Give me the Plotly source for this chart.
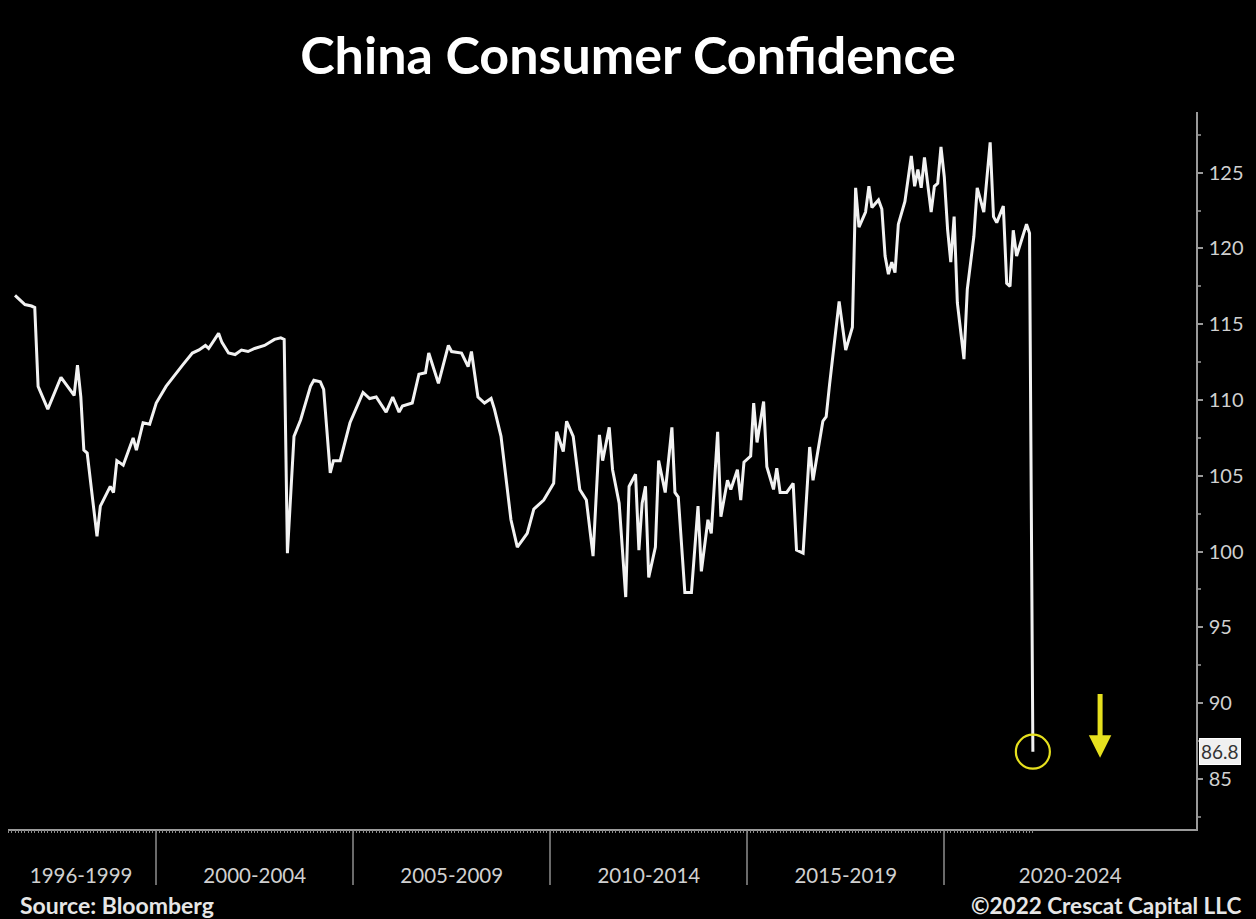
import plotly.graph_objects as go
import pandas as pd

# ---- data (monthly index, China consumer confidence) ----
dates = [
    "1996-06", "1996-09", "1996-11", "1996-12", "1997-01", "1997-04", "1997-08", "1997-12",
    "1998-01", "1998-02", "1998-03", "1998-04", "1998-07", "1998-08", "1998-11", "1998-12",
    "1999-01", "1999-03", "1999-06", "1999-07", "1999-09", "1999-11", "2000-01", "2000-04",
    "2000-09", "2000-12", "2001-02", "2001-04", "2001-05", "2001-08", "2001-09", "2001-11",
    "2002-01", "2002-03", "2002-05", "2002-07", "2002-10", "2003-01", "2003-03", "2003-04",
    "2003-05", "2003-07", "2003-09", "2003-12", "2004-01", "2004-03", "2004-04", "2004-06",
    "2004-07", "2004-09", "2004-12", "2005-04", "2005-06", "2005-08", "2005-11", "2006-01",
    "2006-03", "2006-04", "2006-07", "2006-09", "2006-11", "2006-12", "2007-03", "2007-06",
    "2007-07", "2007-10", "2007-12", "2008-01", "2008-03", "2008-05", "2008-07", "2008-08",
    "2008-10", "2009-01", "2009-03", "2009-06", "2009-08", "2009-11", "2010-02", "2010-03",
    "2010-05", "2010-06", "2010-08", "2010-10", "2010-12", "2011-02", "2011-04", "2011-05",
    "2011-07", "2011-08", "2011-10", "2011-12", "2012-01", "2012-03", "2012-04", "2012-05",
    "2012-06", "2012-07", "2012-09", "2012-10", "2012-12", "2013-02", "2013-03", "2013-04",
    "2013-06", "2013-08", "2013-10", "2013-11", "2014-01", "2014-02", "2014-04", "2014-05",
    "2014-07", "2014-08", "2014-10", "2014-11", "2014-12", "2015-02", "2015-03", "2015-04",
    "2015-06", "2015-07", "2015-09", "2015-10", "2015-11", "2016-01", "2016-03", "2016-04",
    "2016-06", "2016-08", "2016-09", "2016-12", "2017-01", "2017-02", "2017-05", "2017-07",
    "2017-09", "2017-10", "2017-11", "2018-01", "2018-02", "2018-03", "2018-05", "2018-06",
    "2018-07", "2018-08", "2018-09", "2018-10", "2018-11", "2019-01", "2019-03", "2019-04",
    "2019-05", "2019-06", "2019-07", "2019-08", "2019-09", "2019-10", "2019-11", "2019-12",
    "2020-01", "2020-02", "2020-03", "2020-04", "2020-05", "2020-07", "2020-08", "2020-10",
    "2020-11", "2021-01", "2021-03", "2021-04", "2021-05", "2021-07", "2021-08", "2021-09",
    "2021-10", "2021-11", "2022-02", "2022-03", "2022-04",
]
values = [
    116.9, 116.3, 116.2, 116.1, 110.9, 109.4, 111.5, 110.3,
    112.3, 110.2, 106.7, 106.5, 101.0, 103.0, 104.3, 103.9,
    106.0, 105.7, 107.5, 106.7, 108.5, 108.4, 109.8, 110.9,
    112.3, 113.1, 113.3, 113.6, 113.4, 114.4, 113.8, 113.1,
    113.0, 113.3, 113.2, 113.4, 113.6, 114.0, 114.1, 114.0,
    99.9, 107.6, 108.7, 110.9, 111.3, 111.2, 110.7, 105.2,
    106.0, 106.0, 108.5, 110.5, 110.1, 110.2, 109.2, 110.2,
    109.2, 109.6, 109.8, 111.7, 111.8, 113.1, 111.1, 113.6,
    113.2, 113.1, 112.2, 113.2, 110.2, 109.8, 110.1, 109.4,
    107.6, 102.1, 100.3, 101.2, 102.8, 103.4, 104.5, 107.9,
    106.6, 108.6, 107.6, 104.1, 103.4, 99.7, 107.7, 106.0,
    108.2, 105.4, 103.2, 97.0, 104.3, 105.1, 100.1, 103.2,
    104.3, 98.3, 100.3, 106.0, 103.9, 108.2, 103.9, 103.6,
    97.3, 97.3, 103.0, 98.7, 102.1, 101.2, 107.9, 102.3,
    104.7, 104.1, 105.4, 103.4, 105.9, 106.3, 109.8, 107.2,
    109.9, 105.6, 104.1, 105.5, 103.9, 103.9, 104.5, 100.1,
    99.9, 106.9, 104.7, 108.6, 108.9, 111.0, 116.5, 113.3,
    114.8, 124.0, 121.4, 122.4, 124.1, 122.7, 123.2, 122.6,
    119.5, 118.3, 119.1, 118.4, 121.6, 123.1, 126.1, 124.1,
    125.2, 124.0, 126.0, 124.1, 122.4, 124.1, 124.3, 126.7,
    124.7, 121.2, 119.1, 122.1, 116.4, 112.7, 117.3, 120.8,
    124.0, 122.4, 127.0, 122.1, 121.7, 122.8, 117.7, 117.5,
    121.2, 119.5, 121.6, 121.0, 86.8,
]

period_labels = ["1996-1999", "2000-2004", "2005-2009", "2010-2014", "2015-2019", "2020-2024"]
period_label_pos = ["1998-02-04", "2002-07-02", "2007-07-02", "2012-07-02", "2017-07-02", "2023-03-13"]
period_bounds = ["2000-01-01", "2005-01-01", "2010-01-01", "2015-01-01", "2020-01-01"]
y_ticks = [85, 90, 95, 100, 105, 110, 115, 120, 125]

x_range = ["1996-03-28", "2026-05-22"]
y_range = [81.7, 129.0]
arrow_date = "2023-12-15"
arrow_tip, arrow_tail = 86.4, 90.7

FONT = "Lato, 'Open Sans', sans-serif"
AXIS_COL = "#9a9a9a"
TICK_FONT_COL = "#d0d0d0"
YELLOW = "#e6e01e"

monthly_ticks = pd.date_range("1996-04-01", dates[-1] + "-01", freq="MS")

fig = go.Figure()
fig.add_trace(go.Scatter(
    x=dates, y=values, mode="lines",
    line=dict(color="#f2f2f2", width=3),
    hoverinfo="x+y", showlegend=False,
))
# circled last observation
fig.add_trace(go.Scatter(
    x=[dates[-1]], y=[values[-1]], mode="markers",
    marker=dict(symbol="circle-open", size=34, color=YELLOW, line=dict(color=YELLOW, width=2.2)),
    xaxis="x2", hoverinfo="skip", showlegend=False,
))

fig.update_layout(
    width=1256, height=919,
    paper_bgcolor="#000000", plot_bgcolor="#000000",
    margin=dict(l=8, r=60, t=112, b=90),
    title=dict(
        text="China Consumer Confidence",
        x=0.5, xref="container", xanchor="center",
        y=1 - 56 / 919, yref="container", yanchor="middle",
        font=dict(family=FONT, size=52, color="#ffffff", weight="bold"),
    ),
    xaxis=dict(
        type="date", range=x_range,
        showgrid=False, zeroline=False,
        showline=True, linecolor=AXIS_COL, linewidth=1.5,
        tickmode="array", tickvals=period_label_pos, ticktext=period_labels,
        ticks="", ticklabelstandoff=28,
        tickfont=dict(family=FONT, size=20.5, color=TICK_FONT_COL),
        minor=dict(tickmode="array", tickvals=period_bounds, ticks="outside",
                   ticklen=54, tickcolor="#6a6a6a", tickwidth=1.5, showgrid=False),
    ),
    xaxis2=dict(
        type="date", range=x_range, overlaying="x", anchor="y", side="bottom",
        showgrid=False, zeroline=False, showline=False,
        tickmode="array", tickvals=monthly_ticks, showticklabels=False,
        ticks="outside", ticklen=3, tickcolor="#8a8a8a", tickwidth=1,
    ),
    yaxis=dict(
        side="right", range=y_range,
        showgrid=False, zeroline=False,
        showline=True, linecolor=AXIS_COL, linewidth=1.5,
        tickmode="array", tickvals=y_ticks,
        ticks="outside", ticklen=5, tickcolor=AXIS_COL, tickwidth=1.5,
        ticklabelstandoff=2,
        tickfont=dict(family=FONT, size=20, color=TICK_FONT_COL),
        minor=dict(dtick=2.5, tick0=82.5, ticks="outside", ticklen=3,
                   tickcolor="#777777", showgrid=False),
    ),
    annotations=[
        dict(text=f"{values[-1]}", xref="paper", x=1, xanchor="left", xshift=3,
             yref="y", y=values[-1], yanchor="middle", showarrow=False,
             bgcolor="#f0f0f0", bordercolor="#ffffff", borderwidth=1, borderpad=1,
             font=dict(family=FONT, size=19, color="#333333")),
        dict(x=arrow_date, y=arrow_tip, ax=arrow_date, ay=arrow_tail,
             xref="x", yref="y", axref="x", ayref="y", text="",
             showarrow=True, arrowhead=2, arrowsize=0.9, arrowwidth=5,
             arrowcolor=YELLOW, standoff=0),
        dict(text="<b>Source: Bloomberg</b>", xref="paper", x=(18 - 8) / 1188, xanchor="left",
             yref="paper", y=(829 - 905) / 717, yanchor="middle", showarrow=False,
             font=dict(family=FONT, size=23, color="#e6e6e6")),
        dict(text="<b>©2022 Crescat Capital LLC</b>", xref="paper", x=(1243 - 8) / 1188,
             xanchor="right", yref="paper", y=(829 - 905) / 717, yanchor="middle",
             showarrow=False, font=dict(family=FONT, size=22.5, color="#e6e6e6")),
    ],
)

fig.write_html(
    "out.html",
    config={"displayModeBar": False},
    post_script="document.body.style.margin='0';document.body.style.overflow='hidden';"
                "document.body.style.background='#000';",
)
